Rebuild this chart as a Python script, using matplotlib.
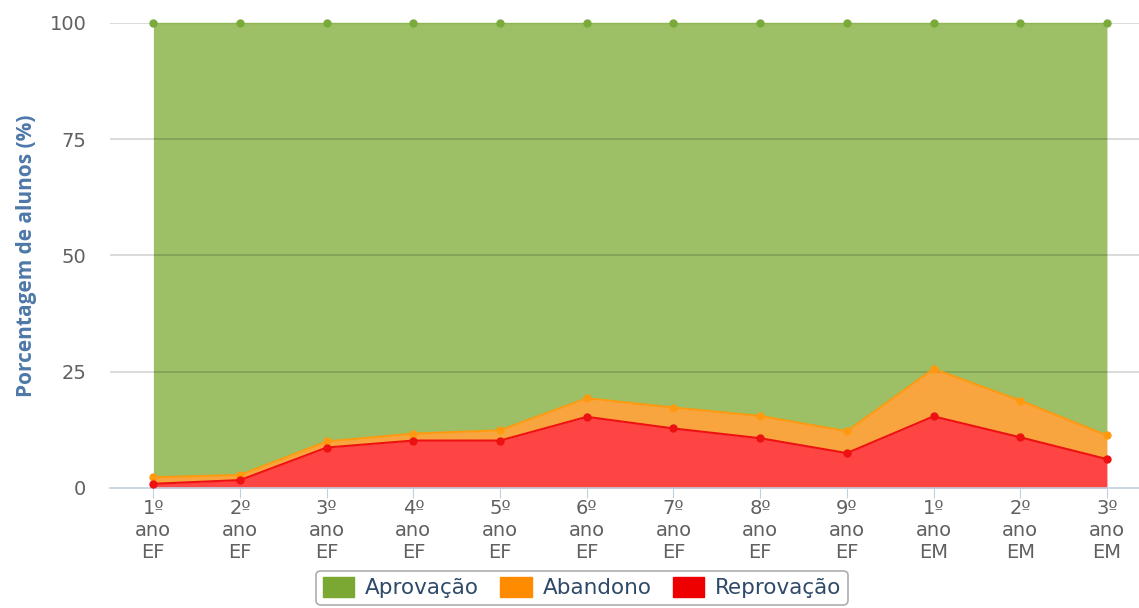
import matplotlib
matplotlib.use('Agg')
import matplotlib.pyplot as plt
from matplotlib.patches import Patch

series_names = ['Aprovação', 'Abandono', 'Reprovação']
categories = ['1º\nano\nEF', '2º\nano\nEF', '3º\nano\nEF', '4º\nano\nEF', '5º\nano\nEF',
              '6º\nano\nEF', '7º\nano\nEF', '8º\nano\nEF', '9º\nano\nEF',
              '1º\nano\nEM', '2º\nano\nEM', '3º\nano\nEM']

reprovacao = [0.9, 1.7, 8.7, 10.2, 10.2, 15.3, 12.8, 10.7, 7.5, 15.4, 10.9, 6.2]
abandono = [1.4, 1.1, 1.3, 1.5, 2.2, 4.0, 4.5, 4.8, 4.7, 10.2, 7.9, 5.1]
aprovacao = [97.7, 97.2, 90.0, 88.3, 87.6, 80.7, 82.7, 84.5, 87.8, 74.4, 81.2, 88.7]

yticks = [0, 25, 50, 75, 100]


def plot_data():
    fig = plt.figure(figsize=(11.39, 6.08), dpi=100)
    ax = fig.add_axes([0.0966, 0.1974, 0.9034, 0.7648])

    x = list(range(len(categories)))
    lvl1 = reprovacao
    lvl2 = [r + a for r, a in zip(reprovacao, abandono)]
    lvl3 = [b + p for b, p in zip(lvl2, aprovacao)]

    col_green_fill = '#9dbf66'
    col_orange_fill = '#f9a53f'
    col_red_fill = '#ff4444'

    ax.fill_between(x, 0, lvl1, color=col_red_fill, linewidth=0, zorder=1)
    ax.fill_between(x, lvl1, lvl2, color=col_orange_fill, linewidth=0, zorder=1)
    ax.fill_between(x, lvl2, lvl3, color=col_green_fill, linewidth=0, zorder=1)

    ax.plot(x, lvl3, color='#8fb655', lw=1.0, marker='o', ms=5, mfc='#7aab3a', mec='#7aab3a',
            zorder=4, clip_on=False)
    ax.plot(x, lvl2, color='#ff9a10', lw=1.5, marker='o', ms=5, zorder=4, clip_on=False)
    ax.plot(x, lvl1, color='#ee1111', lw=1.5, marker='o', ms=5, zorder=5, clip_on=False)

    ax.set_xlim(-0.5, 11.37)
    ax.set_ylim(0, 100)

    # gridlines on top of the areas
    for y in yticks[1:]:
        ax.axhline(y, color='black', alpha=0.17, lw=1.2, zorder=3)

    for s in ['top', 'right', 'left']:
        ax.spines[s].set_visible(False)
    ax.spines['bottom'].set_color('#c0d0e0')
    ax.spines['bottom'].set_linewidth(1.2)
    ax.spines['bottom'].set_zorder(2)

    ax.set_xticks(x)
    ax.set_xticklabels(categories, fontsize=14, color='#606060', linespacing=1.2)
    ax.tick_params(axis='x', length=7, color='#c0d0e0', pad=1)

    ax.set_yticks(yticks)
    ax.set_yticklabels([str(v) for v in yticks], fontsize=14, color='#606060')
    ax.tick_params(axis='y', length=0, pad=17)

    ax.set_ylabel('Porcentagem de alunos (%)', fontsize=15, color='#4d78a8',
                  family='Open Sans', fontweight='bold', labelpad=9)

    handles = [Patch(facecolor='#7aa832', edgecolor='#7aa832'),
               Patch(facecolor='#ff8c00', edgecolor='#ff8c00'),
               Patch(facecolor='#ee0000', edgecolor='#ee0000')]
    leg = fig.legend(handles, series_names, loc='lower center', bbox_to_anchor=(0.511, 0.0),
                     ncol=3, fontsize=15.5, frameon=True, fancybox=True,
                     handlelength=1.45, handleheight=1.0, handletextpad=0.5,
                     columnspacing=1.0, borderpad=0.3, borderaxespad=0.15)
    leg.get_frame().set_edgecolor('#999999')
    leg.get_frame().set_linewidth(1.2)
    for t in leg.get_texts():
        t.set_color('#2f4a68')

    fig.savefig('out.png', dpi=100)


if __name__ == '__main__':
    plot_data()
